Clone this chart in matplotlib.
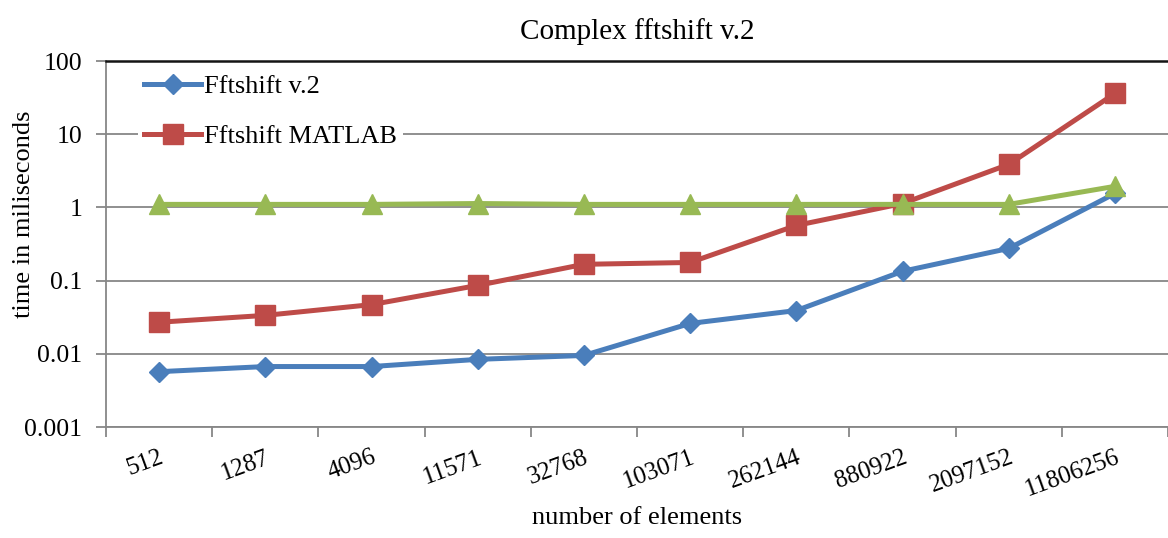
import matplotlib
matplotlib.use("Agg")
import matplotlib.pyplot as plt
import numpy as np

sizes = ["512", "1287", "4096", "11571", "32768", "103071", "262144",
         "880922", "2097152", "11806256"]
fftshift_v2 = [0.0057, 0.0067, 0.0067, 0.0084, 0.0095, 0.026, 0.039, 0.134, 0.275, 1.55]
fftshift_matlab = [0.027, 0.0335, 0.047, 0.086, 0.167, 0.177, 0.567, 1.13, 3.87, 36.0]
third_series = [1.1, 1.1, 1.1, 1.13, 1.1, 1.1, 1.1, 1.1, 1.1, 1.94]

plt.rcParams['font.family'] = ['Liberation Serif', 'DejaVu Serif']

fig = plt.figure(figsize=(11.68, 5.38), dpi=100)
ax = fig.add_axes([0.0908, 0.2063, 0.9092, 0.6803])

x = np.arange(len(sizes))
ax.plot(x, fftshift_v2, color='#4A7EBB', lw=3.6, marker='D', ms=10,
        label='Fftshift v.2', zorder=4)
ax.plot(x, fftshift_matlab, color='#BE4B48', lw=3.6, marker='s', ms=14,
        label='Fftshift MATLAB', zorder=3)
ax.plot(x, third_series, color='#98B954', lw=3.6, marker='^', ms=14,
        label='_nolegend_', zorder=5)

ax.set_yscale('log')
ax.set_ylim(0.001, 100)
ax.set_yticks([0.001, 0.01, 0.1, 1, 10, 100])
ax.set_yticklabels(['0.001', '0.01', '0.1', '1', '10', '100'])
ax.yaxis.set_minor_locator(matplotlib.ticker.NullLocator())
ax.set_xlim(-0.5, len(sizes) - 0.5)

# category labels at centres, tick marks at category boundaries
ax.set_xticks(np.arange(len(sizes) + 1) - 0.5)
ax.set_xticklabels([])
ax.set_xticks(x, minor=True)
ax.set_xticklabels(sizes, minor=True, rotation=20, ha='right', va='top',
                   rotation_mode='anchor', fontsize=18)
ax.tick_params(axis='x', which='minor', length=0, pad=14)
ax.tick_params(axis='x', which='major', length=7, width=1.3, color='#878787')
ax.tick_params(axis='y', which='major', length=7, width=1.3, color='#878787',
               labelsize=18.5, direction='out', pad=10)

ax.grid(axis='y', color='#878787', lw=1.3)
ax.spines['right'].set_visible(False)
ax.spines['top'].set_color('#141414')
ax.spines['top'].set_linewidth(1.8)
ax.spines['top'].set_zorder(6)
ax.spines['left'].set_color('#878787')
ax.spines['left'].set_linewidth(1.3)
ax.spines['bottom'].set_color('#878787')
ax.spines['bottom'].set_linewidth(1.3)

ax.set_title('Complex fftshift v.2', fontsize=21, pad=16)
ax.set_xlabel('number of elements', fontsize=19, labelpad=4)
ax.set_ylabel('time in miliseconds', fontsize=19, va='center')
ax.yaxis.set_label_coords(-0.077, 0.582)

leg = ax.legend(loc='upper left', bbox_to_anchor=(0.025, 0.995), frameon=True,
                fontsize=19, handlelength=2.15, labelspacing=1.0,
                borderpad=0.25, handletextpad=0.1, borderaxespad=0.2)
leg.get_frame().set_edgecolor('none')
leg.get_frame().set_facecolor('white')
leg.get_frame().set_alpha(1)

fig.savefig('out.png', dpi=100)
